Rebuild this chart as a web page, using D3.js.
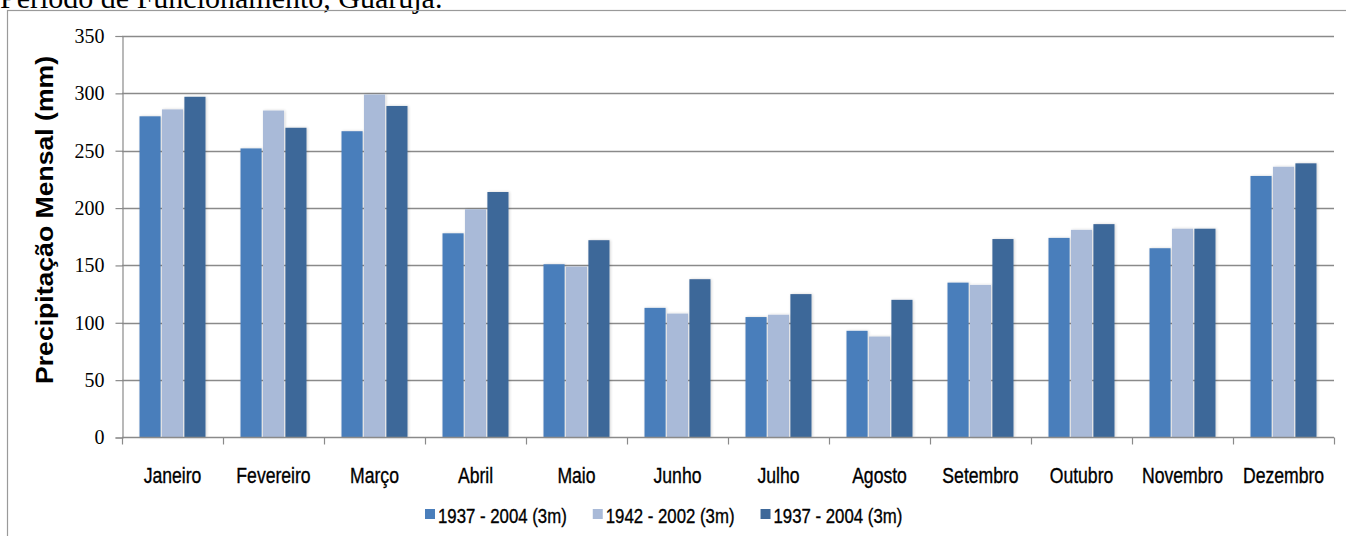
<!DOCTYPE html>
<html>
<head>
<meta charset="utf-8">
<script src="https://cdn.jsdelivr.net/npm/d3@7"></script>
<style>
  html, body { margin: 0; padding: 0; background: #ffffff; }
  svg { display: block; }
</style>
</head>
<body>
<svg id="chart" width="1346" height="536"></svg>
<script>
// Monthly precipitation (mm), Guarujá
const months = ["Janeiro", "Fevereiro", "Março", "Abril", "Maio", "Junho",
                "Julho", "Agosto", "Setembro", "Outubro", "Novembro", "Dezembro"];
const seriesNames = ["1937 - 2004 (3m)", "1942 - 2002 (3m)", "1937 - 2004 (3m)"];
const serieA = [280, 252, 267, 178, 151, 113, 105, 93, 135, 174, 165, 228];
const serieB = [286, 285, 299, 199, 149, 108, 107, 88, 133, 181, 182, 236];
const serieC = [297, 270, 289, 214, 172, 138, 125, 120, 173, 186, 182, 239];
const yTicks = [0, 50, 100, 150, 200, 250, 300, 350];
const colors = ["#4a7ebb", "#a9bad8", "#3e6899"];

const series = [serieA, serieB, serieC];
const svg = d3.select("#chart");
const condensed = "Liberation Sans, Arial, sans-serif";
const squeeze = 0.8; // horizontal compression for the condensed labels

// Heading line above the chart frame (partly clipped at the top)
svg.append("text")
  .attr("x", 0).attr("y", 8)
  .attr("font-family", "Liberation Serif, Times New Roman, serif")
  .attr("font-size", 30)
  .attr("fill", "#000")
  .text("Período de Funcionamento, Guarujá.");

// Chart frame
svg.append("rect")
  .attr("x", 7.5).attr("y", 10.5)
  .attr("width", 1345).attr("height", 540)
  .attr("fill", "none").attr("stroke", "#9a9a9a").attr("stroke-width", 1.2);

const plotLeft = 122, plotRight = 1334, plotTop = 36, plotBottom = 437.5;

const y = d3.scaleLinear().domain([0, 350]).range([plotBottom, plotTop]);
const x0 = d3.scaleBand().domain(months).range([plotLeft, plotRight])
  .paddingInner(0.3465).paddingOuter(0.17325);
const x1 = d3.scaleBand().domain([0, 1, 2]).range([0, x0.bandwidth()]).paddingInner(0.06);

// Horizontal gridlines
svg.append("g").selectAll("line")
  .data(yTicks.filter(d => d > 0))
  .join("line")
  .attr("x1", plotLeft).attr("x2", plotRight)
  .attr("y1", d => Math.round(y(d)) + 0.5).attr("y2", d => Math.round(y(d)) + 0.5)
  .attr("stroke", "#8a8a8a").attr("stroke-width", 1.4);

// Y axis
const yAxis = d3.axisLeft(y).tickValues(yTicks).tickSize(7).tickPadding(11);
const gy = svg.append("g").attr("transform", `translate(${plotLeft + 0.5},0)`).call(yAxis);
gy.attr("font-family", null);
gy.select(".domain").attr("stroke", "#8a8a8a").attr("stroke-width", 1.2);
gy.selectAll(".tick line").attr("stroke", "#8a8a8a").attr("stroke-width", 1.2);
gy.selectAll(".tick text")
  .attr("font-family", "Liberation Serif, Times New Roman, serif")
  .attr("font-size", 20).attr("fill", "#000");

// Soft shadow under the bars
const defs = svg.append("defs");
const f = defs.append("filter").attr("id", "barShadow")
  .attr("x", "-20%").attr("y", "-5%").attr("width", "140%").attr("height", "110%");
f.append("feGaussianBlur").attr("in", "SourceAlpha").attr("stdDeviation", 1.5).attr("result", "b");
f.append("feOffset").attr("in", "b").attr("dx", 1).attr("dy", 0).attr("result", "o");
f.append("feComponentTransfer").attr("in", "o").attr("result", "s")
  .append("feFuncA").attr("type", "linear").attr("slope", 0.18);
const fm = f.append("feMerge");
fm.append("feMergeNode").attr("in", "s");
fm.append("feMergeNode").attr("in", "SourceGraphic");

// Bars
const groups = svg.append("g").selectAll("g")
  .data(months)
  .join("g")
  .attr("transform", d => `translate(${x0(d)},0)`);

groups.selectAll("rect")
  .data((m, i) => series.map((s, k) => ({ k, v: s[i] })))
  .join("rect")
  .attr("x", d => x1(d.k))
  .attr("width", x1.bandwidth())
  .attr("y", d => y(d.v))
  .attr("height", d => y(0) - y(d.v))
  .attr("fill", d => colors[d.k])
  .attr("filter", "url(#barShadow)");

// X axis baseline and category separators
const step = x0.step();
svg.append("line")
  .attr("x1", plotLeft).attr("x2", plotRight)
  .attr("y1", plotBottom).attr("y2", plotBottom)
  .attr("stroke", "#8a8a8a").attr("stroke-width", 1.4);
svg.append("g").selectAll("line")
  .data(d3.range(months.length + 1))
  .join("line")
  .attr("x1", i => Math.round(plotLeft + i * step) + 0.5)
  .attr("x2", i => Math.round(plotLeft + i * step) + 0.5)
  .attr("y1", plotBottom).attr("y2", plotBottom + 7)
  .attr("stroke", "#8a8a8a").attr("stroke-width", 1.2);

// Month labels (condensed)
svg.append("g").selectAll("text")
  .data(months)
  .join("text")
  .attr("transform", d => `translate(${x0(d) + x0.bandwidth() / 2},483) scale(${squeeze},1)`)
  .attr("text-anchor", "middle")
  .attr("font-family", condensed)
  .attr("font-size", 22)
  .attr("fill", "#000")
  .attr("stroke", "#000").attr("stroke-width", 0.35)
  .text(d => d);

// Y axis title
svg.append("text")
  .attr("transform", "translate(53,220) rotate(-90)")
  .attr("text-anchor", "middle")
  .attr("font-family", "Liberation Sans, Arial, sans-serif")
  .attr("font-weight", "bold")
  .attr("font-size", 23)
  .attr("textLength", 328)
  .attr("lengthAdjust", "spacingAndGlyphs")
  .attr("fill", "#000")
  .text("Precipitação Mensal (mm)");

// Legend
const legend = svg.append("g");
let lx = 425;
seriesNames.forEach((name, k) => {
  legend.append("rect")
    .attr("x", lx).attr("y", 509)
    .attr("width", 10).attr("height", 10)
    .attr("fill", colors[k]);
  const t = legend.append("text")
    .attr("transform", `translate(${lx + 13},523) scale(${squeeze},1)`)
    .attr("font-family", condensed)
    .attr("font-size", 21)
    .attr("fill", "#000")
    .attr("stroke", "#000").attr("stroke-width", 0.35)
    .text(name);
  lx += 13 + t.node().getComputedTextLength() * squeeze + 26;
});
</script>
</body>
</html>
